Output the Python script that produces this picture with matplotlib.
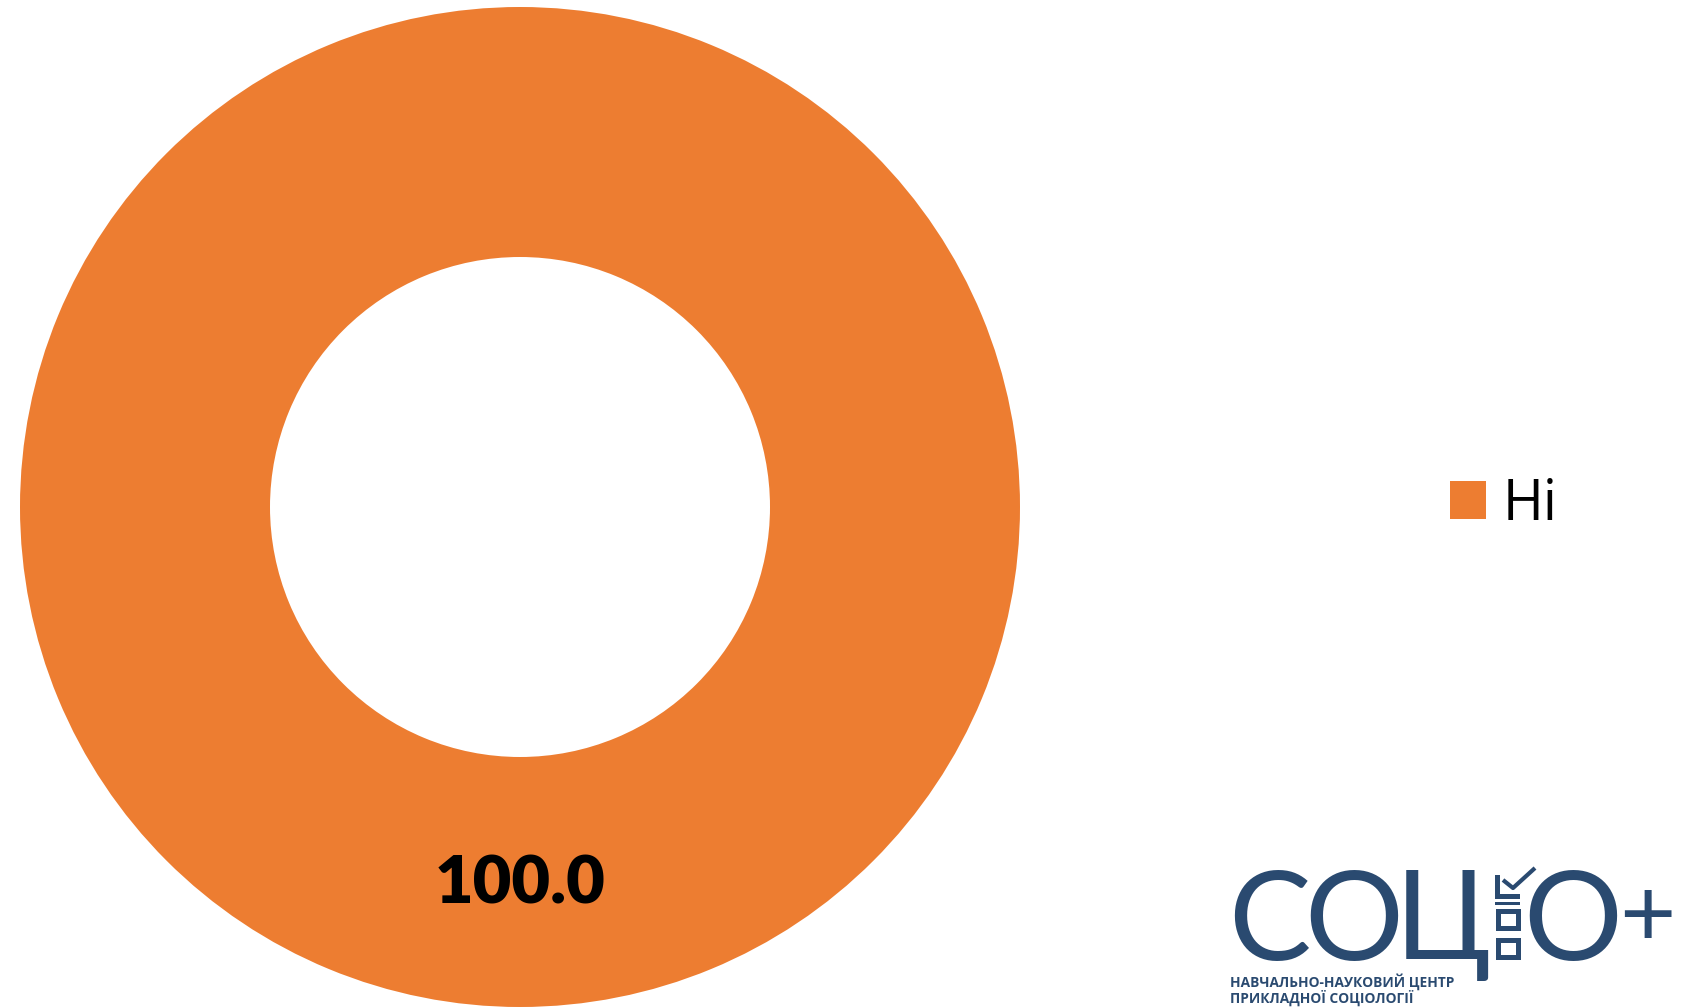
import matplotlib.pyplot as plt
import matplotlib.patches as mpatches

# Data
labels = ['Ні']
values = [100.0]
colors = ['#ED7D31']

logo_color = '#2A4A70'
logo_letters = ['С', 'О', 'Ц']
logo_lines = ['НАВЧАЛЬНО-НАУКОВИЙ ЦЕНТР', 'ПРИКЛАДНОЇ СОЦІОЛОГІЇ']

W, H = 1688, 1007
fig = plt.figure(figsize=(W / 100, H / 100), dpi=100)

# Donut, centre (520, 507) px, outer radius 500 px
ax = fig.add_axes([20 / W, 0, 1000 / W, 1000 / H])
wedges, texts, autotexts = ax.pie(values, colors=colors, startangle=90, counterclock=False,
                                  radius=1, autopct='%.1f', pctdistance=0.755,
                                  wedgeprops=dict(width=0.5, edgecolor='none'),
                                  textprops=dict(fontsize=48, fontweight='heavy', color='black',
                                                 family='Lato'))
ax.set_xlim(-1, 1)
ax.set_ylim(-1, 1)
ax.set_aspect('equal')
ax.axis('off')

leg = fig.legend(wedges, labels, loc='center left', bbox_to_anchor=(1450 / W, 1 - 505 / H),
                 frameon=False, handlelength=0.65, handleheight=0.65,
                 handletextpad=0.3, borderpad=0, borderaxespad=0,
                 prop=dict(family='Open Sans', size=40))

# Logo drawn in pixel coordinates on an overlay axes
lax = fig.add_axes([0, 0, 1, 1])
lax.set_xlim(0, W)
lax.set_ylim(H, 0)
lax.axis('off')

for letter, xc in zip(logo_letters, (1269, 1354, 1443)):
    lax.text(xc, 960, letter, fontsize=89, family='Lato', color=logo_color,
             ha='center', va='baseline')
lax.text(1573, 960, 'О', fontsize=89, family='Lato', color=logo_color,
         ha='center', va='baseline')
lax.text(1647, 946, '+', fontsize=70, family='Lato', color=logo_color,
         ha='center', va='baseline')

# checkbox column
lax.add_patch(mpatches.Rectangle((1495, 875), 5, 24, color=logo_color, lw=0))
lax.add_patch(mpatches.Rectangle((1495, 894), 25, 5, color=logo_color, lw=0))
lax.plot([1503, 1513, 1535], [880, 888, 868], color=logo_color, lw=3, solid_capstyle='butt')
lax.add_patch(mpatches.Rectangle((1495, 902), 25, 3, color=logo_color, lw=0))
for y0 in (908, 937):
    lax.add_patch(mpatches.Rectangle((1497.5, y0 + 2.5), 20, 17, fill=False,
                                     edgecolor=logo_color, lw=3.6))

lax.text(1230, 987, logo_lines[0], fontsize=9.9, family='Open Sans', fontweight='bold',
         color=logo_color, ha='left', va='baseline')
lax.text(1230, 1003, logo_lines[1], fontsize=9.9, family='Open Sans', fontweight='bold',
         color=logo_color, ha='left', va='baseline')

fig.savefig('out.png', dpi=100)
